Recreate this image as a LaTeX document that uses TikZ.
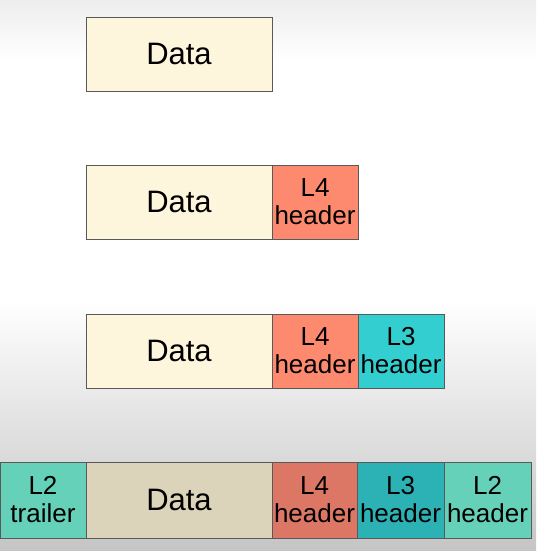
\documentclass[tikz,border=0pt]{standalone}
\usepackage{fontspec}
\setmainfont{Liberation Sans}
\usetikzlibrary{positioning}
\definecolor{datfill}{HTML}{FDF5DC}
\definecolor{lfourfill}{HTML}{FD8A6E}
\definecolor{lthreefill}{HTML}{33CFD0}
\definecolor{datdark}{HTML}{DBD3BA}
\definecolor{lfourdark}{HTML}{DC7765}
\definecolor{lthreedark}{HTML}{2CB1B5}
\definecolor{ltwodark}{HTML}{65D1B8}

\begin{document}
\begin{tikzpicture}[
        x=1pt, y=-1pt,
        every node/.style={rectangle, draw=black!65, line width=0.8pt, align=center, inner sep=0pt, outer sep=0pt, minimum height=74pt},
        datbox/.style={minimum width=186pt, font=\fontsize{31}{34}\selectfont},
        hdrbox/.style={minimum width=86pt, font=\fontsize{26}{28}\selectfont},
        node distance=0pt
        ]
        % background
        \useasboundingbox (0,0) rectangle (536,551);
        \shade[top color=black!7, bottom color=white] (0,0) rectangle (536,60);
        \fill[white] (0,60) rectangle (536,300);
        \shade[top color=white, bottom color=black!23] (0,300) rectangle (536,551);
        % row 1
        \node[datbox, fill=datfill, anchor=north west] (d1) at (86,17) {Data};
        % row 2
        \node[datbox, fill=datfill, anchor=north west] (d2) at (86,165) {Data};
        \node[hdrbox, fill=lfourfill, right=of d2] (lf2) {L4\\header};
        % row 3
        \node[datbox, fill=datfill, anchor=north west] (d3) at (86,314) {Data};
        \node[hdrbox, fill=lfourfill, right=of d3] (lf3) {L4\\header};
        \node[hdrbox, fill=lthreefill, right=of lf3] (lt3) {L3\\header};
        % row 4 (a bit taller)
        \begin{scope}[every node/.append style={minimum height=76pt}]
        \node[datbox, fill=datdark, anchor=north west] (d4) at (86,462) {Data};
        \node[hdrbox, fill=ltwodark, left=of d4] (tr4) {L2\\trailer};
        \node[hdrbox, fill=lfourdark, minimum width=85pt, right=of d4] (lf4) {L4\\header};
        \node[hdrbox, fill=lthreedark, minimum width=87pt, right=of lf4] (lt4) {L3\\header};
        \node[hdrbox, fill=ltwodark, minimum width=87pt, right=of lt4] (ls4) {L2\\header};
        \end{scope}
\end{tikzpicture}
\end{document}
